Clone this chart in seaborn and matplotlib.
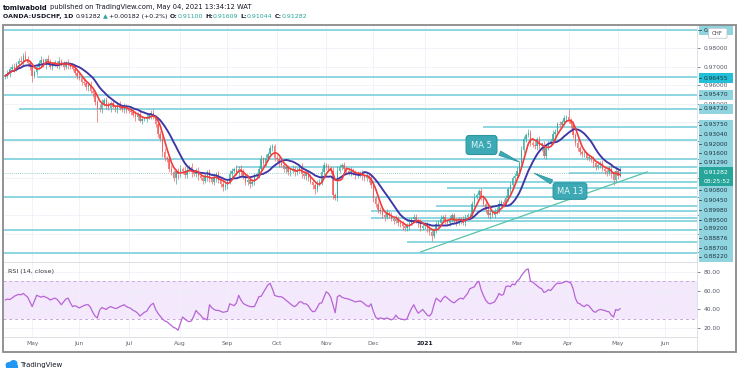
import numpy as np
import pandas as pd
import matplotlib
matplotlib.use("Agg")
import matplotlib.pyplot as plt
import seaborn as sns
from matplotlib.patches import Rectangle, FancyBboxPatch, Ellipse
from matplotlib.lines import Line2D

sns.set_style("white")
plt.rcParams['font.family'] = ['DejaVu Sans']

# ---------------- data ----------------
start_date = "2020-04-15"
closes_pips = [
    9650, 9665, 9690, 9700, 9685, 9715, 9730, 9725, 9760, 9740, 9720, 9700, 9650,
    9670, 9700, 9720, 9735, 9710, 9740, 9725, 9700, 9715, 9720, 9705, 9730, 9715, 9700, 9720, 9710, 9700, 9690, 9665, 9650,
    9640, 9620, 9610, 9590, 9600, 9570, 9560, 9510, 9480, 9470, 9500, 9520, 9490, 9480, 9505, 9485, 9470, 9495, 9480, 9470, 9490, 9465,
    9460, 9455, 9440, 9430, 9445, 9410, 9420, 9420, 9430, 9440, 9450, 9430, 9390, 9340, 9310, 9240, 9210, 9200, 9150, 9130, 9100, 9140, 9120,
    9150, 9140, 9115, 9145, 9160, 9130, 9120, 9140, 9110, 9100, 9085, 9110, 9130, 9095, 9080, 9100, 9120, 9090, 9070, 9050, 9060,
    9080, 9120, 9140, 9150, 9125, 9150, 9135, 9110, 9080, 9090, 9070, 9080, 9110, 9120, 9150, 9200, 9180, 9210, 9230, 9260, 9270, 9210,
    9200, 9180, 9170, 9150, 9160, 9130, 9140, 9150, 9130, 9140, 9160, 9120, 9110, 9125, 9100, 9080, 9060, 9040, 9070, 9080, 9130, 9170,
    9160, 9150, 9140, 9010, 8990, 9140, 9160, 9170, 9150, 9140, 9125, 9140, 9130, 9115, 9120, 9125, 9110, 9100, 9110, 9095, 9060,
    8990, 8960, 8930, 8920, 8900, 8890, 8910, 8900, 8880, 8870, 8880, 8860, 8850, 8840, 8830, 8840, 8860, 8880, 8890, 8870, 8860, 8830, 8840,
    8850, 8830, 8810, 8790, 8820, 8850, 8860, 8880, 8890, 8870, 8860, 8880, 8900, 8870, 8860, 8870, 8880, 8860, 8890, 8900, 8900,
    8960, 9000, 9010, 9030, 9000, 8960, 8930, 8900, 8910, 8900, 8920, 8930, 8960, 8970, 8960, 8990, 9040, 9060, 9100, 9110,
    9140, 9180, 9250, 9310, 9330, 9345, 9290, 9280, 9270, 9310, 9270, 9280, 9220, 9260, 9290, 9300, 9340, 9350, 9390, 9385, 9400, 9425, 9430,
    9410, 9390, 9330, 9290, 9260, 9240, 9230, 9230, 9210, 9210, 9200, 9180, 9160, 9170, 9180, 9150, 9140, 9130, 9150, 9120, 9090, 9140, 9110, 9128,
]
hi_wick_pips = [
    12, 18, 9, 15, 22, 10, 14, 30, 11, 25, 16, 8, 20,
    14, 10, 18, 25, 12, 9, 21, 15, 11, 17, 13, 20, 10, 16, 12, 19, 14, 11, 18, 9,
    15, 12, 20, 10, 14, 22, 9, 16, 13, 18, 25, 11, 15, 20, 12, 17, 10, 14, 19, 13, 16, 11,
    14, 18, 10, 22, 12, 28, 15, 11, 19, 13, 16, 24, 10, 14, 12, 17, 20, 9, 15, 22, 13, 11, 16,
    18, 12, 25, 14, 10, 20, 13, 16, 22, 11, 15, 19, 12, 17, 10, 24, 14, 18, 12, 15, 20,
    13, 22, 16, 11, 18, 14, 20, 12, 15, 10, 17, 13, 19, 11, 16, 24, 14, 18, 12, 20, 15, 11,
    16, 12, 20, 14, 18, 11, 15, 22, 13, 17, 10, 19, 14, 12, 16, 20, 11, 15, 18, 13, 22, 14,
    12, 18, 15, 20, 11, 25, 16, 13, 19, 10, 14, 17, 12, 15, 20, 11, 16, 13, 18, 14, 22,
    15, 11, 19, 13, 17, 10, 22, 14, 16, 12, 20, 15, 11, 18, 13, 16, 25, 12, 14, 19, 11, 17, 13,
    16, 12, 20, 14, 11, 18, 15, 22, 13, 17, 10, 19, 14, 12, 16, 21, 11, 15, 18, 13, 14,
    15, 19, 12, 11, 17, 11, 20, 13, 16, 10, 18, 14, 22, 12, 15, 19, 11, 17, 13, 16,
    18, 14, 22, 16, 12, 19, 15, 11, 20, 13, 17, 14, 21, 12, 16, 10, 18, 15, 13, 20, 14, 17, 12,
    42, 15, 20, 12, 17, 14, 11, 19, 13, 16, 10, 18, 14, 21, 12, 15, 17, 11, 16, 13, 19, 14, 12, 33,
]
lo_wick_pips = [
    14, 10, 20, 12, 16, 9, 18, 13, 22, 11, 15, 17, 30,
    12, 16, 10, 19, 13, 22, 11, 15, 18, 9, 14, 20, 12, 17, 10, 25, 13, 16, 11, 19,
    13, 18, 11, 15, 20, 12, 24, 16, 80, 14, 19, 11, 17, 13, 22, 10, 15, 18, 12, 16, 20, 14,
    11, 16, 13, 20, 15, 10, 18, 12, 17, 14, 22, 11, 15, 19, 13, 26, 16, 12, 20, 14, 18, 30, 25,
    15, 20, 12, 17, 14, 22, 10, 16, 19, 13, 18, 11, 24, 15, 12, 17, 20, 14, 16, 22, 13,
    17, 12, 19, 14, 11, 16, 20, 13, 18, 15, 22, 12, 16, 10, 19, 14, 17, 13, 20, 11, 15, 18,
    14, 19, 12, 16, 21, 13, 17, 11, 20, 15, 12, 18, 14, 22, 16, 13, 19, 25, 15, 12, 17, 14,
    18, 13, 20, 22, 8, 15, 12, 17, 14, 19, 11, 16, 13, 20, 15, 12, 18, 14, 17, 13, 16,
    20, 15, 18, 12, 16, 22, 13, 17, 11, 19, 14, 16, 12, 20, 15, 13, 18, 11, 17, 14, 21, 16, 12,
    15, 20, 18, 30, 13, 17, 12, 19, 14, 16, 11, 20, 15, 13, 18, 12, 17, 14, 19, 11, 16,
    14, 18, 12, 16, 20, 13, 17, 15, 22, 11, 16, 14, 19, 12, 18, 13, 15, 20, 11, 17,
    16, 12, 19, 14, 17, 11, 20, 15, 13, 18, 12, 22, 14, 16, 11, 19, 13, 17, 15, 12, 18, 14, 16,
    13, 18, 15, 20, 12, 16, 14, 19, 11, 17, 13, 22, 15, 12, 18, 14, 16, 20, 11, 17, 28, 13, 15, 6,
]
rsi_values = [
    50, 51, 50.5, 52, 54, 55, 56, 55.5, 57, 55, 53, 48, 43,
    49, 55, 54, 53, 54, 53, 52, 50, 51, 52, 51, 48, 45, 48, 51, 52, 47, 43, 44, 43,
    41.5, 43, 44, 45, 45, 42, 37, 33, 31, 39, 42, 41, 40, 42, 43, 42, 41, 41.5, 43, 44, 45, 43,
    42, 41, 39, 38, 36, 33, 35, 37, 38, 42, 45, 46.5, 40, 36, 33, 30, 28, 27, 25, 23, 21, 20, 18,
    25, 32, 30, 28, 27, 28, 33, 39, 36, 34, 31, 30, 29, 45, 42, 40, 39, 39, 38, 37, 37.5,
    38, 46, 45, 44, 47, 55, 50, 46.5, 45, 44, 43, 43, 43, 48, 53.5, 54, 58, 62, 66, 67.7, 62, 55,
    54, 53.5, 53.5, 52, 50, 48, 46, 44, 43, 45, 48, 48, 46, 46, 44, 40, 37.6, 38, 42, 46.5, 47, 53,
    58.8, 57, 53, 45, 36.5, 53.5, 55, 53, 52, 51.5, 51, 50, 49, 48, 48.5, 49, 48, 46, 44, 43, 46,
    38, 32, 30, 31, 30.5, 30, 31, 30, 29, 30, 34, 31, 30, 29.5, 29, 30, 36, 41, 45, 40, 36, 38, 40,
    37, 34, 33, 36, 45, 52, 50, 48, 52, 54, 52, 50, 48, 47, 49, 51, 52, 51, 54, 57, 62,
    63, 64, 68, 70, 61, 55, 50, 47, 46, 47, 48, 52, 57, 55, 56, 64, 65, 64, 67, 66,
    70, 72, 76, 79, 82, 83, 70, 69, 67, 65, 63, 62, 58, 59, 61, 60, 63, 66, 68, 67.5, 68, 69, 70,
    69, 68, 62, 52, 47, 46, 44, 43, 45, 44, 41, 38, 37, 39, 40, 39.5, 39, 38, 37.5, 34, 32, 40, 39, 41,
]
last_price = 0.91282

level_prices = [0.9897, 0.96455, 0.9547, 0.9472, 0.9375, 0.9304, 0.9200, 0.9160, 0.9129,
                0.9080, 0.9045, 0.8998, 0.8950, 0.8920, 0.88876, 0.8870, 0.8822, 0.8757, 0.8697]
level_start_dates = [None, "2020-05-05", None, "2020-04-23", "2021-02-08", None, None, "2020-09-07",
                     "2021-04-01", "2020-11-27", "2021-01-15", None, "2021-01-08", "2020-11-30",
                     "2020-11-30", "2020-12-22", None, "2020-12-22", None]

trend_dates = ["2020-12-30", "2021-05-20"]
trend_prices = [0.8702, 0.9133]

month_dates = ["2020-05-01", "2020-06-01", "2020-07-01", "2020-08-03", "2020-09-01", "2020-10-01",
               "2020-11-02", "2020-12-01", "2021-01-01", "2021-03-01", "2021-04-01", "2021-05-03", "2021-06-01"]
month_labels = ["May", "Jun", "Jul", "Aug", "Sep", "Oct", "Nov", "Dec", "2021", "Mar", "Apr", "May", "Jun"]

price_tick_values = [0.95, 0.96, 0.97, 0.98]
rsi_tick_values = [20, 40, 60, 80]

# top label is mostly hidden behind the CHF tag in the reference: only "0." shows
scale_labels = ["0.", "0.96455", "0.95470", "0.94720", "0.93750", "0.93040", "0.92000",
                "0.91600", "0.91290", "0.90800", "0.90450", "0.89980", "0.89500", "0.89200",
                "0.88876", "0.88700", "0.88220"]

# ---------------- derived series ----------------
closes = np.array(closes_pips) / 10000.0
n = len(closes)
opens = np.r_[closes[0], closes[:-1]]
highs = np.maximum(opens, closes) + np.array(hi_wick_pips) / 10000.0
lows = np.minimum(opens, closes) - np.array(lo_wick_pips) / 10000.0
xb = np.arange(n)
all_dates = pd.bdate_range(start_date, "2021-07-30")
ma5 = pd.Series(closes).rolling(5, min_periods=1).mean().values
ma13 = pd.Series(closes).rolling(13, min_periods=1).mean().values

def bar_of(d):
    return int(all_dates.searchsorted(pd.Timestamp(d)))

month_pos = [bar_of(d) for d in month_dates]

# ---------------- layout ----------------
W, H = 740, 374
fig = plt.figure(figsize=(W / 100, H / 100), dpi=100)
fig.patch.set_facecolor("white")

def fx(p):
    return p / W

def fy(p):
    return 1 - p / H

X0, X1 = 3, 697
MAIN_T, MAIN_B, RSI_B = 25, 262, 337
XL = (-1.0, 308.2)

ax = fig.add_axes([fx(X0), fy(MAIN_B), (X1 - X0) / W, (MAIN_B - MAIN_T) / H])
axr = fig.add_axes([fx(X0), fy(RSI_B), (X1 - X0) / W, (RSI_B - MAIN_B) / H])

for a in (ax, axr):
    a.set_facecolor("white")
    for s in a.spines.values():
        s.set_visible(False)
    a.set_xlim(*XL)

ax.set_ylim(0.8648, 0.99243)
axr.set_ylim(10.8, 90.3)

# grid
grid_c = "#eef1f7"
ax.set_xticks(month_pos)
ax.set_xticklabels([])
ax.tick_params(axis="x", length=0)
yt = np.round(np.arange(0.87, 0.995, 0.01), 2)
ax.set_yticks(yt)
ax.set_yticklabels(["%.5f" % v if v in price_tick_values else "" for v in yt])
ax.yaxis.tick_right()
ax.tick_params(axis="y", labelsize=4.3, colors="#555a66", length=2.5, width=0.5, pad=2)
ax.grid(True, color=grid_c, lw=0.6)

axr.set_xticks(month_pos)
axr.set_xticklabels(month_labels)
axr.tick_params(axis="x", labelsize=4.3, colors="#5f636e", length=0, pad=3.2)
for lab in axr.get_xticklabels():
    if lab.get_text() == "2021":
        lab.set_color("#131722")
        lab.set_fontweight("bold")
axr.set_yticks(rsi_tick_values)
axr.set_yticklabels(["%.2f" % v for v in rsi_tick_values])
axr.yaxis.tick_right()
axr.tick_params(axis="y", labelsize=4.3, colors="#555a66", length=2.5, width=0.5, pad=2)
axr.grid(True, color=grid_c, lw=0.6)

# horizontal levels
lvl_c = "#86d3df"
for p, d in zip(level_prices, level_start_dates):
    xmin = XL[0] if d is None else bar_of(d)
    ax.hlines(p, xmin, XL[1], color=lvl_c, lw=1.3, zorder=1)

# current price dotted line
ax.axhline(last_price, color="#7fbfb9", lw=0.6, ls=(0, (1, 1.5)), zorder=1.2)

# candles
up = closes >= opens
cols = np.where(up, "#26a69a", "#ef5350")
ax.vlines(xb, lows, highs, colors=cols, lw=0.6, alpha=0.75, zorder=2)
bottoms = np.minimum(opens, closes)
heights = np.maximum(np.abs(closes - opens), 0.00015)
ax.bar(xb, heights, bottom=bottoms, width=0.62, color=cols, lw=0, alpha=0.75, zorder=2)

# moving averages
sns.lineplot(x=xb, y=ma13, ax=ax, color="#3d36a3", lw=1.35, zorder=3)
sns.lineplot(x=xb, y=ma5, ax=ax, color="#f23b3b", lw=1.2, zorder=4)
ax.set_xlabel("")
ax.set_ylabel("")

# trend line
tx = [bar_of(d) for d in trend_dates]
ax.plot(tx, trend_prices, color="#56c2aa", lw=0.9, zorder=3)

# callouts
call_fc, call_ec = "#3ca9b4", "#2b96a0"
ax.annotate("MA 5", xy=(230.1, 0.9181), xytext=(212.2, 0.9278), ha="center", va="center",
            fontsize=6, color="#e4f5f7",
            bbox=dict(boxstyle="round,pad=0.6,rounding_size=0.35", fc=call_fc, ec=call_ec, lw=0.8),
            arrowprops=dict(arrowstyle="wedge,tail_width=0.55,shrink_factor=0.5", fc=call_fc, ec=call_ec, lw=0.6),
            zorder=6)
ax.annotate("MA 13", xy=(234.6, 0.9133), xytext=(251.6, 0.9030), ha="center", va="center",
            fontsize=6, color="#e4f5f7",
            bbox=dict(boxstyle="round,pad=0.45,rounding_size=0.35", fc=call_fc, ec=call_ec, lw=0.8),
            arrowprops=dict(arrowstyle="wedge,tail_width=0.55,shrink_factor=0.5", fc=call_fc, ec=call_ec, lw=0.6),
            zorder=6)

# RSI pane
axr.axhspan(30, 70, color="#f4e8fc", zorder=0.5, lw=0)
axr.axhline(70, color="#c9a5dc", lw=0.7, ls=(0, (3, 3)), zorder=1)
axr.axhline(30, color="#c9a5dc", lw=0.7, ls=(0, (3, 3)), zorder=1)
sns.lineplot(x=xb, y=np.array(rsi_values), ax=axr, color="#b864d6", lw=0.9, zorder=3)
axr.set_xlabel("")
axr.set_ylabel("")
fig.text(fx(8), fy(271), "RSI (14, close)", fontsize=4.6, color="#333740", va="center", ha="left")

# separators and outer frame
sep = "#d9dce3"
fig.add_artist(Line2D([fx(X0), fx(X1)], [fy(MAIN_B), fy(MAIN_B)], color=sep, lw=0.6, zorder=4))
fig.add_artist(Line2D([fx(X0), fx(X1)], [fy(RSI_B), fy(RSI_B)], color=sep, lw=0.6, zorder=4))
fig.add_artist(Line2D([fx(X1), fx(X1)], [fy(MAIN_T), fy(352)], color=sep, lw=0.6, zorder=4))
fig.add_artist(Rectangle((fx(3), fy(352)), (736 - 3) / W, (352 - 24.5) / H, transform=fig.transFigure,
                         fill=False, ec="#8a8a8a", lw=1.3, zorder=10))

# price-scale label boxes
box_y = [30, 78, 95, 109, 125, 135, 144, 153, 163, 190, 200, 210, 220, 229, 238, 248, 257]
BX0, BX1 = 698.5, 733
for i, (txt, y) in enumerate(zip(scale_labels, box_y)):
    fc = "#22bfd6" if txt == "0.96455" else "#90d4e0"
    h = 9.7
    fig.add_artist(Rectangle((fx(BX0), fy(y + h / 2)), (BX1 - BX0) / W, h / H, transform=fig.transFigure,
                             fc=fc, ec="none", zorder=5))
    fig.add_artist(Line2D([fx(698.5), fx(701)], [fy(y), fy(y)], color="#2a3a44", lw=0.6, zorder=6))
    fig.text(fx(703.5), fy(y), txt, fontsize=4.3, color="#1f3640", va="center", ha="left", zorder=6)

# current price box
fig.add_artist(Rectangle((fx(BX0), fy(186)), (BX1 - BX0) / W, 19 / H, transform=fig.transFigure,
                         fc="#26a69a", ec="none", zorder=5))
fig.text(fx(703.5), fy(172.5), "%.5f" % last_price, fontsize=4.3, color="white", va="center", ha="left", zorder=6)
fig.text(fx(703.5), fy(181.5), "08:25:52", fontsize=4.3, color="white", va="center", ha="left", zorder=6)

# CHF tag
fig.add_artist(FancyBboxPatch((fx(710), fy(37.5)), 15.5 / W, 8.5 / H, transform=fig.transFigure,
                              boxstyle="round,pad=0.002", fc="white", ec="#b8bcc6", lw=0.5, zorder=7))
fig.text(fx(717.7), fy(33.3), "CHF", fontsize=4.0, color="#444", va="center", ha="center", zorder=8)

# header text in coloured pieces
renderer = fig.canvas.get_renderer()

def pieces_line(pieces, x_px, y_px, size):
    x = x_px
    for txt, wt, col, gap in pieces:
        t = fig.text(fx(x), fy(y_px), txt, fontsize=size, fontweight=wt, color=col,
                     va="center", ha="left", family=["DejaVu Sans"])
        x += t.get_window_extent(renderer).width + gap

dark, teal = "#131722", "#26a69a"
pieces_line([("tomiwabold", "bold", dark, 2.1),
             ("published on TradingView.com, May 04, 2021 13:34:12 WAT", "normal", dark, 0)],
            3, 7.5, 4.85)
pieces_line([("OANDA:USDCHF, 1D", "bold", dark, 2.0),
             ("0.91282", "normal", dark, 1.8),
             ("\u25b2", "normal", teal, 1.8),
             ("+0.00182 (+0.2%)", "normal", dark, 1.8),
             ("O:", "bold", dark, 0.2), ("0.91100", "normal", teal, 1.8),
             ("H:", "bold", dark, 0.2), ("0.91609", "normal", teal, 1.8),
             ("L:", "bold", dark, 0.2), ("0.91044", "normal", teal, 1.8),
             ("C:", "bold", dark, 0.2), ("0.91282", "normal", teal, 0)],
            3, 16.5, 4.5)

# TradingView logo
fig.add_artist(Ellipse((fx(9), fy(365)), 7 / W, 6 / H, transform=fig.transFigure, fc="#2196f3", ec="none", zorder=5))
fig.add_artist(Ellipse((fx(13.5), fy(363.5)), 8 / W, 7 / H, transform=fig.transFigure, fc="#2196f3", ec="none", zorder=5))
fig.add_artist(Rectangle((fx(6), fy(368)), 12 / W, 3 / H, transform=fig.transFigure, fc="#2196f3", ec="none", zorder=5))
fig.text(fx(20), fy(364.5), "TradingView", fontsize=5.0, color="#131722", va="center", ha="left")

fig.savefig("out.png", dpi=100)
